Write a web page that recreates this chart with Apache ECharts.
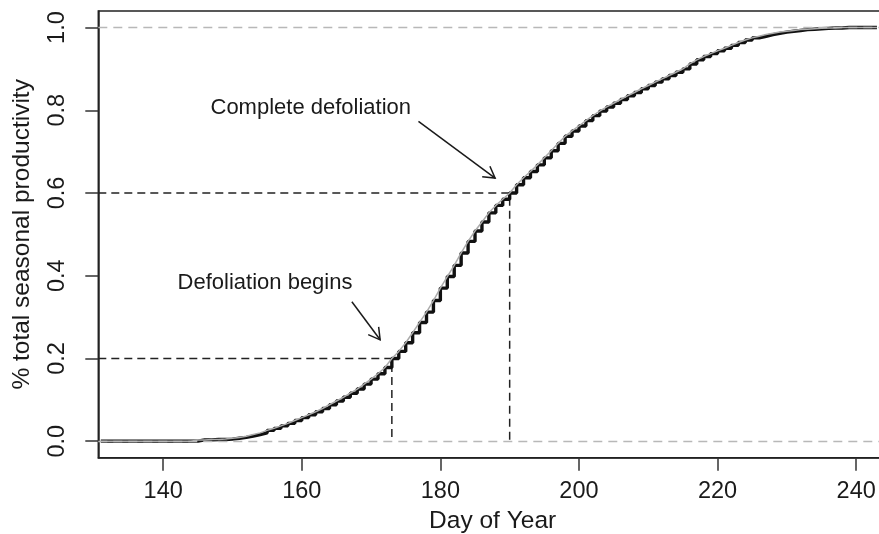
<!DOCTYPE html>
<html>
<head>
<meta charset="utf-8">
<script src="https://cdn.jsdelivr.net/npm/echarts@6/dist/echarts.min.js"></script>
<style>
html,body{margin:0;padding:0;background:#fff;}
#chart{width:879px;height:534px;}
</style>
</head>
<body>
<div id="chart"></div>
<script>
// ---- data ----
const days = [131,132,133,134,135,136,137,138,139,140,141,142,143,144,145,146,147,148,149,150,
  151,152,153,154,155,156,157,158,159,160,161,162,163,164,165,166,167,168,169,170,
  171,172,173,174,175,176,177,178,179,180,181,182,183,184,185,186,187,188,189,190,
  191,192,193,194,195,196,197,198,199,200,201,202,203,204,205,206,207,208,209,210,
  211,212,213,214,215,216,217,218,219,220,221,222,223,224,225,226,227,228,229,230,
  231,232,233,234,235,236,237,238,239,240,241,242,243];
const productivity = [0,0,0,0,0,0,0,0,0,0,0,0,0,0,0.003,0.003,0.004,0.004,0.005,0.007,
  0.009,0.012,0.016,0.020,0.026,0.031,0.037,0.043,0.050,0.057,0.064,0.071,0.079,0.088,0.097,0.106,0.116,0.126,0.138,0.150,
  0.163,0.178,0.200,0.217,0.238,0.262,0.287,0.312,0.340,0.370,0.398,0.425,0.455,0.483,0.508,0.530,0.552,0.570,0.585,0.600,
  0.620,0.637,0.652,0.668,0.685,0.702,0.720,0.737,0.750,0.762,0.775,0.787,0.798,0.808,0.817,0.826,0.835,0.843,0.852,0.860,
  0.868,0.876,0.884,0.892,0.900,0.912,0.922,0.930,0.937,0.944,0.950,0.957,0.964,0.970,0.975,0.979,0.983,0.986,0.989,0.991,
  0.993,0.995,0.996,0.997,0.998,0.999,0.999,1.0,1.0,1.0,1.0,1.0,1.0];
const xTicks = [140,160,180,200,220,240];
const yTicks = [0,0.2,0.4,0.6,0.8,1.0];
const yTickLabels = ['0.0','0.2','0.4','0.6','0.8','1.0'];
const defolBegin = {day:173, value:0.2};
const defolComplete = {day:190, value:0.6};
const annotations = [
  {text:'Complete defoliation', at:[161.3,0.806], from:[176.84,0.773], to:[187.9,0.636]},
  {text:'Defoliation begins', at:[154.7,0.382], from:[167.23,0.337], to:[171.31,0.245]}
];
const xMin = 130.64, xMax = 244.45, yMin = -0.04, yMax = 1.04;

// ---- chart ----
const FONT = '"Liberation Sans", Arial, Helvetica, sans-serif';
const TXT = '#1a1a1a';
const chart = echarts.init(document.getElementById('chart'), null, {renderer:'canvas'});
const pts = days.map((d,i)=>[d, productivity[i]]);

const option = {
  animation:false,
  backgroundColor:'#fff',
  grid:{left:98.3, top:11, width:788.7, height:446.7, show:true, borderColor:'#222', borderWidth:1.5,
    containLabel:false, outerBoundsMode:'none'},
  xAxis:{
    type:'value', min:xMin, max:xMax,
    name:'Day of Year', nameLocation:'middle', nameGap:50,
    nameTextStyle:{fontFamily:FONT, fontSize:24.5, color:TXT},
    axisLine:{show:true, onZero:false, lineStyle:{color:'#222', width:1.5}},
    axisTick:{show:true, inside:false, length:13, customValues:xTicks, lineStyle:{color:'#333', width:1.5}},
    axisLabel:{show:true, margin:22, customValues:xTicks, fontFamily:FONT, fontSize:23.5, color:TXT},
    splitLine:{show:false}
  },
  yAxis:{
    type:'value', min:yMin, max:yMax,
    name:'% total seasonal productivity', nameLocation:'middle', nameGap:64, nameRotate:90,
    nameTextStyle:{fontFamily:FONT, fontSize:24.5, color:TXT},
    axisLine:{show:true, onZero:false, lineStyle:{color:'#222', width:1.5}},
    axisTick:{show:true, inside:false, length:13, customValues:yTicks, lineStyle:{color:'#333', width:1.5}},
    axisLabel:{show:true, margin:29, rotate:90, customValues:yTicks,
      formatter:(v)=>{const i=yTicks.findIndex(t=>Math.abs(t-v)<1e-9); return i>=0?yTickLabels[i]:'';},
      fontFamily:FONT, fontSize:23.5, color:TXT},
    splitLine:{show:false}
  },
  series:[
    {
      type:'line', name:'refs', data:[], silent:true, z:1,
      markLine:{silent:true, symbol:'none', label:{show:false},
        lineStyle:{color:'#b8b8b8', type:[9,6], width:1.3},
        data:[{yAxis:0},{yAxis:1}]}
    },
    {
      type:'line', name:'begin', silent:true, symbol:'none', z:2,
      lineStyle:{color:'#222', width:1.5, type:[8,5]},
      data:[[xMin, defolBegin.value],[defolBegin.day, defolBegin.value],[defolBegin.day, 0]]
    },
    {
      type:'line', name:'complete', silent:true, symbol:'none', z:2,
      lineStyle:{color:'#222', width:1.5, type:[8,5]},
      data:[[xMin, defolComplete.value],[defolComplete.day, defolComplete.value],[defolComplete.day, 0]]
    },
    {
      type:'line', name:'step', step:'end', symbol:'none', silent:true, z:3,
      lineStyle:{color:'#111', width:3.4},
      data:pts
    },
    {
      type:'line', name:'smooth', symbol:'none', silent:true, z:4,
      lineStyle:{color:'#ababab', width:1.5},
      data:pts
    }
  ]
};
chart.setOption(option);

// annotations (positions converted from data coordinates)
const gr = [];
annotations.forEach(a=>{
  const c = chart.convertToPixel({gridIndex:0}, a.at);
  gr.push({type:'text', x:c[0], y:c[1], silent:true,
    style:{text:a.text, fontFamily:FONT, fontSize:22, fill:TXT, align:'center', verticalAlign:'middle'}});
  const p0 = chart.convertToPixel({gridIndex:0}, a.from);
  const p1 = chart.convertToPixel({gridIndex:0}, a.to);
  gr.push({type:'line', silent:true, shape:{x1:p0[0], y1:p0[1], x2:p1[0], y2:p1[1]},
    style:{stroke:'#1a1a1a', lineWidth:1.5}});
  const ang = Math.atan2(p1[1]-p0[1], p1[0]-p0[0]);
  const L = 13, da = Math.PI/6;
  gr.push({type:'polyline', silent:true, shape:{points:[
      [p1[0]-L*Math.cos(ang-da), p1[1]-L*Math.sin(ang-da)],
      [p1[0], p1[1]],
      [p1[0]-L*Math.cos(ang+da), p1[1]-L*Math.sin(ang+da)]
    ]}, style:{stroke:'#1a1a1a', lineWidth:1.5, fill:null}});
});
chart.setOption({graphic:gr});
</script>
</body>
</html>
